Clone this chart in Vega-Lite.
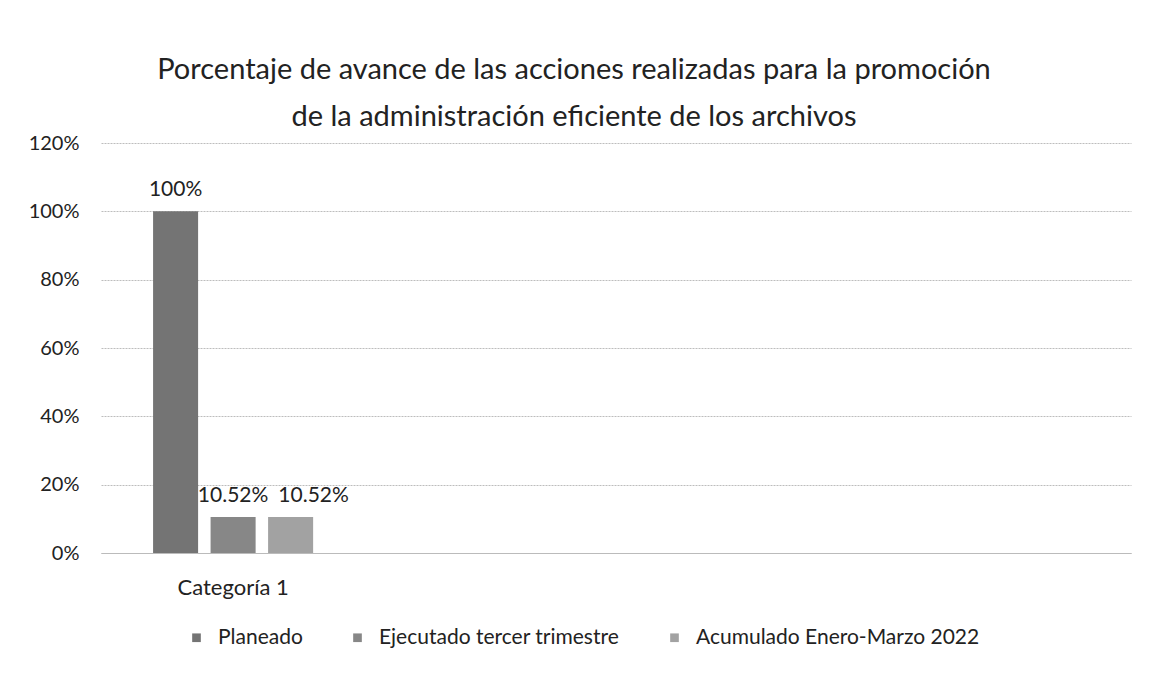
{
  "$schema": "https://vega.github.io/schema/vega-lite/v6.json",
  "autosize": {"type": "pad"},
  "width": 1030,
  "height": 410,
  "padding": {"left": 28, "right": 19, "top": 56, "bottom": 20},
  "background": "white",
  "title": {
    "text": ["Porcentaje de avance de las acciones realizadas para la promoción", "de la administración eficiente de los archivos"],
    "font": "Lato",
    "fontSize": 29,
    "fontWeight": "normal",
    "color": "#222",
    "lineHeight": 47,
    "anchor": "middle",
    "dx": -42,
    "offset": 1
  },
  "data": {
    "values": [
      {"categoria": "Categoría 1", "serie": "Planeado", "valor": 1.0, "etiqueta": "100%"},
      {"categoria": "Categoría 1", "serie": "Ejecutado tercer trimestre", "valor": 0.1052, "etiqueta": "10.52%"},
      {"categoria": "Categoría 1", "serie": "Acumulado Enero-Marzo 2022", "valor": 0.1052, "etiqueta": "10.52%"}
    ]
  },
  "encoding": {
    "x": {
      "field": "categoria",
      "type": "nominal",
      "title": null,
      "scale": {"domain": ["Categoría 1", "c2", "c3", "c4"], "paddingInner": 0.373, "paddingOuter": 0.204},
      "axis": {
        "labelExpr": "datum.value == 'Categoría 1' ? datum.value : ''",
        "labelAngle": 0,
        "labelFont": "Lato",
        "labelFontSize": 22,
        "labelColor": "#222",
        "labelPadding": 24,
        "ticks": false,
        "domain": true,
        "domainColor": "#bbbbbb",
        "grid": false
      }
    },
    "xOffset": {
      "field": "serie",
      "type": "nominal",
      "sort": ["Planeado", "Ejecutado tercer trimestre", "Acumulado Enero-Marzo 2022"],
      "scale": {"paddingInner": 0.217, "paddingOuter": 0}
    },
    "y": {
      "field": "valor",
      "type": "quantitative",
      "title": null,
      "scale": {"domain": [0, 1.2], "nice": false},
      "axis": {
        "format": ".0%",
        "values": [0, 0.2, 0.4, 0.6, 0.8, 1.0, 1.2],
        "labelFont": "Lato",
        "labelFontSize": 20,
        "labelColor": "#222",
        "labelPadding": 22,
        "ticks": false,
        "domain": false,
        "gridColor": "#bdbdbd",
        "gridWidth": 1,
        "gridDash": [2, 1]
      }
    }
  },
  "layer": [
    {
      "mark": {"type": "bar"},
      "encoding": {
        "color": {
          "field": "serie",
          "type": "nominal",
          "sort": ["Planeado", "Ejecutado tercer trimestre", "Acumulado Enero-Marzo 2022"],
          "scale": {
            "domain": ["Planeado", "Ejecutado tercer trimestre", "Acumulado Enero-Marzo 2022"],
            "range": ["#747474", "#878787", "#a2a2a2"]
          },
          "legend": {
            "title": null,
            "orient": "none",
            "legendX": 85,
            "legendY": 484,
            "direction": "horizontal",
            "symbolType": "square",
            "symbolSize": 75,
            "labelFont": "Lato",
            "labelFontSize": 21,
            "labelColor": "#222",
            "labelLimit": 0,
            "labelOffset": 11,
            "columnPadding": 44
          }
        }
      }
    },
    {
      "transform": [{"filter": "datum.serie != 'Acumulado Enero-Marzo 2022'"}],
      "mark": {"type": "text", "baseline": "bottom", "dy": -11, "font": "Lato", "fontSize": 21, "color": "#222"},
      "encoding": {"text": {"field": "etiqueta"}}
    },
    {
      "transform": [{"filter": "datum.serie == 'Acumulado Enero-Marzo 2022'"}],
      "mark": {"type": "text", "baseline": "bottom", "dy": -11, "dx": 23, "font": "Lato", "fontSize": 21, "color": "#222"},
      "encoding": {"text": {"field": "etiqueta"}}
    }
  ],
  "config": {"view": {"stroke": null}}
}
